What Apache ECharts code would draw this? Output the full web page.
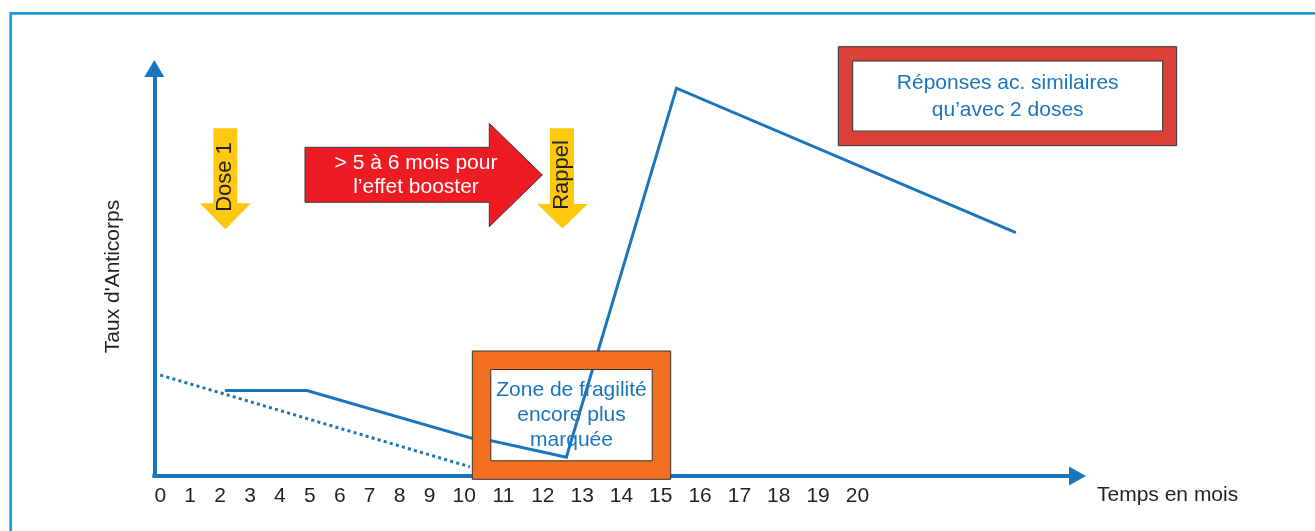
<!DOCTYPE html>
<html>
<head>
<meta charset="utf-8">
<script src="https://cdn.jsdelivr.net/npm/echarts@6/dist/echarts.min.js"></script>
<style>
  html, body { margin: 0; padding: 0; background: #ffffff; }
  #chart { width: 1315px; height: 531px; }
</style>
</head>
<body>
<div id="chart"></div>
<script>
// Months marked along the time axis
const monthTicks = [0, 1, 2, 3, 4, 5, 6, 7, 8, 9, 10, 11, 12, 13, 14, 15, 16, 17, 18, 19, 20];

// Antibody level with a first dose then a booster (solid line)
const boosterMonths = [2.2, 4.9, 12.6, 15.4, 24.0];
const boosterLevels = [21.4, 21.4, 4.7, 97.2, 61.1];

// Antibody decline after a single dose (dotted line)
const declineMonths = [0, 10.35];
const declineLevels = [25.3, 2.3];

// The time axis is printed with a wider step from month 10 on:
// an early span and a late span, each with its own linear scale.
// The late curve is drawn from where the fragile-zone frame starts.
const earlySpan = [-0.2, 10.72];
const lateAxisSpan = [9.5, 25.38];
const lateDataSpan = [10.43, 25.38];
const levelRange = [0, 100];

const BLUE = '#1b75bc';
const INK = '#231f20';
const FONT = 'Liberation Sans, Arial, Helvetica, sans-serif';

const boosterLine = boosterMonths.map((m, i) => [m, boosterLevels[i]]);
const declineLine = declineMonths.map((m, i) => [m, declineLevels[i]]);

const chart = echarts.init(document.getElementById('chart'), null, { renderer: 'canvas' });

const axisLineStyle = { color: BLUE, width: 4, cap: 'square' };
const plotTop = 77;
const plotHeight = 399;

function lineSeries(gridIdx, data, dotted) {
  return {
    type: 'line',
    xAxisIndex: gridIdx,
    yAxisIndex: gridIdx,
    data: data,
    clip: true,
    showSymbol: false,
    silent: true,
    z: 3,
    lineStyle: dotted
      ? { color: BLUE, width: 3, type: [3, 3.3], cap: 'butt' }
      : { color: BLUE, width: 3, cap: 'round', join: 'miter' }
  };
}

function hiddenLevelAxis(gridIdx) {
  return { gridIndex: gridIdx, type: 'value', min: levelRange[0], max: levelRange[1], show: false };
}

const option = {
  animation: false,
  backgroundColor: '#ffffff',
  textStyle: { fontFamily: FONT },
  grid: [
    { left: 154.3, top: plotTop, width: 326.7, height: plotHeight, outerBoundsMode: 'none', containLabel: false },
    { left: 444.5, top: plotTop, width: 624.5, height: plotHeight, outerBoundsMode: 'none', containLabel: false },
    { left: 481, top: plotTop, width: 588, height: plotHeight, outerBoundsMode: 'none', containLabel: false }
  ],
  xAxis: [
    {
      gridIndex: 0, type: 'value', min: earlySpan[0], max: earlySpan[1],
      axisLine: { show: true, onZero: false, lineStyle: axisLineStyle },
      axisTick: { show: false },
      splitLine: { show: false },
      axisLabel: {
        customValues: monthTicks.filter(v => v < lateAxisSpan[0]),
        formatter: v => String(v),
        color: INK, fontSize: 21, margin: 10, fontFamily: FONT
      }
    },
    {
      gridIndex: 1, type: 'value', min: lateAxisSpan[0], max: lateAxisSpan[1],
      axisLine: {
        show: true, onZero: false, lineStyle: axisLineStyle,
        symbol: ['none', 'triangle'], symbolSize: [19, 17], symbolOffset: [0, 8.5]
      },
      axisTick: { show: false },
      splitLine: { show: false },
      axisLabel: {
        customValues: monthTicks.filter(v => v > lateAxisSpan[0]),
        formatter: v => String(v),
        color: INK, fontSize: 21, margin: 10, fontFamily: FONT
      },
      name: 'Temps en mois',
      nameLocation: 'end',
      nameGap: 28,
      nameMoveOverlap: false,
      nameTextStyle: {
        color: INK, fontSize: 21, fontFamily: FONT,
        align: 'left', verticalAlign: 'top', lineHeight: 38
      }
    },
    {
      gridIndex: 2, type: 'value', min: lateDataSpan[0], max: lateDataSpan[1], show: false
    }
  ],
  yAxis: [
    {
      gridIndex: 0, type: 'value', min: levelRange[0], max: levelRange[1],
      axisLine: {
        show: true, onZero: false, lineStyle: axisLineStyle,
        symbol: ['none', 'triangle'], symbolSize: [20, 17], symbolOffset: [0, 8.5]
      },
      axisTick: { show: false },
      splitLine: { show: false },
      axisLabel: { show: false },
      name: 'Taux d\'Anticorps',
      nameLocation: 'middle',
      nameRotate: 90,
      nameGap: 31,
      nameTextStyle: { color: INK, fontSize: 21, fontFamily: FONT }
    },
    hiddenLevelAxis(1),
    hiddenLevelAxis(2)
  ],
  series: [
    lineSeries(0, declineLine, true),
    lineSeries(0, boosterLine, false),
    lineSeries(2, boosterLine, false)
  ],
  graphic: {
    elements: [
      // outer frame
      {
        type: 'rect', z: 1, silent: true,
        shape: { x: 10.7, y: 13.3, width: 2000, height: 2000 },
        style: { fill: 'none', stroke: '#1b9ad8', lineWidth: 2.7 }
      },
      // first dose marker
      {
        type: 'polygon', z: 50, silent: true,
        shape: { points: [[213.3, 128.3], [237.3, 128.3], [237.3, 203.3], [251, 203.3], [225.4, 229.3], [199.8, 203.3], [213.3, 203.3]] },
        style: { fill: '#fec80e' }
      },
      {
        type: 'text', z: 51, silent: true, x: 225, y: 177, rotation: Math.PI / 2,
        style: { text: 'Dose 1', fill: INK, fontSize: 22, fontFamily: FONT, align: 'center', verticalAlign: 'middle', textAlign: 'center', textVerticalAlign: 'middle' }
      },
      // booster marker
      {
        type: 'polygon', z: 50, silent: true,
        shape: { points: [[550, 128.3], [574, 128.3], [574, 204], [587.7, 204], [562.5, 228.5], [537.3, 204], [550, 204]] },
        style: { fill: '#fec80e' }
      },
      {
        type: 'text', z: 51, silent: true, x: 562, y: 175, rotation: Math.PI / 2,
        style: { text: 'Rappel', fill: INK, fontSize: 22, fontFamily: FONT, align: 'center', verticalAlign: 'middle', textAlign: 'center', textVerticalAlign: 'middle' }
      },
      // delay arrow
      {
        type: 'polygon', z: 50, silent: true,
        shape: { points: [[305, 147.3], [489.3, 147.3], [489.3, 123.3], [542.3, 175], [489.3, 226.7], [489.3, 202.3], [305, 202.3]] },
        style: { fill: '#ed1c24', stroke: '#3a3a3a', lineWidth: 1 }
      },
      {
        type: 'text', z: 51, silent: true, x: 416, y: 175,
        style: { text: '> 5 à 6 mois pour\nl’effet booster', fill: '#ffffff', fontSize: 21, fontFamily: FONT, lineHeight: 24, align: 'center', verticalAlign: 'middle', textAlign: 'center', textVerticalAlign: 'middle' }
      },
      // fragile zone box
      {
        type: 'rect', z: 60, silent: true,
        shape: { x: 481.55, y: 360.25, width: 179.9, height: 109.8 },
        style: { fill: 'none', stroke: '#f37021', lineWidth: 18.5, lineJoin: 'miter' }
      },
      {
        type: 'rect', z: 61, silent: true,
        shape: { x: 472.3, y: 351, width: 198.4, height: 128.3 },
        style: { fill: 'none', stroke: '#333333', lineWidth: 1 }
      },
      {
        type: 'rect', z: 61, silent: true,
        shape: { x: 490.8, y: 369.5, width: 161.4, height: 91.3 },
        style: { fill: 'none', stroke: '#333333', lineWidth: 1 }
      },
      {
        type: 'text', z: 62, silent: true, x: 571.5, y: 415,
        style: { text: 'Zone de fragilité\nencore plus\nmarquée', fill: BLUE, fontSize: 21, fontFamily: FONT, lineHeight: 25, align: 'center', verticalAlign: 'middle', textAlign: 'center', textVerticalAlign: 'middle' }
      },
      // response box
      {
        type: 'rect', z: 60, silent: true,
        shape: { x: 845.5, y: 53.9, width: 324, height: 84.6 },
        style: { fill: 'none', stroke: '#db4039', lineWidth: 14.4, lineJoin: 'miter' }
      },
      {
        type: 'rect', z: 61, silent: true,
        shape: { x: 838.3, y: 46.7, width: 338.4, height: 99 },
        style: { fill: 'none', stroke: '#333333', lineWidth: 1 }
      },
      {
        type: 'rect', z: 61, silent: true,
        shape: { x: 852.7, y: 61, width: 310, height: 70 },
        style: { fill: 'none', stroke: '#333333', lineWidth: 1 }
      },
      {
        type: 'text', z: 62, silent: true, x: 1007.7, y: 96.5,
        style: { text: 'Réponses ac. similaires\nqu’avec 2 doses', fill: BLUE, fontSize: 21, fontFamily: FONT, lineHeight: 26.5, align: 'center', verticalAlign: 'middle', textAlign: 'center', textVerticalAlign: 'middle' }
      }
    ]
  }
};

chart.setOption(option);
</script>
</body>
</html>
